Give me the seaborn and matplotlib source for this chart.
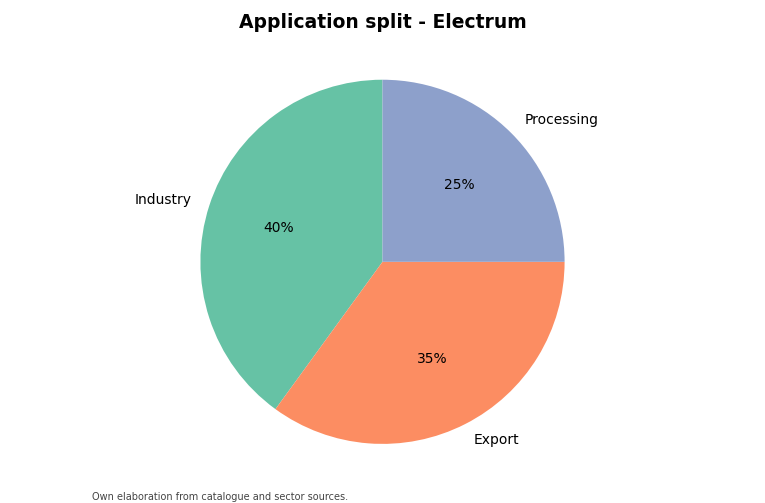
import matplotlib
matplotlib.use("Agg")
import matplotlib.pyplot as plt
import seaborn as sns

labels = ["Industry", "Export", "Processing"]
values = [40, 35, 25]

sns.set_theme(style="white")
plt.rcParams['font.family'] = ['DejaVu Sans']
plt.rcParams['text.color'] = 'black'
colors = sns.color_palette("Set2", 3)

fig = plt.figure(figsize=(7.65, 5.03), dpi=100)
ax = fig.add_axes([0.0, 0.027, 1.0, 0.905])
ax.pie(values, labels=labels, colors=colors, autopct='%1.0f%%', startangle=90,
       wedgeprops={'linewidth': 0}, textprops={'fontsize': 10, 'color': 'black'})
ax.set_aspect('equal')
fig.suptitle("Application split - Electrum", fontsize=13.5, fontweight='bold', y=0.975, color='black')
fig.text(0.12, 0.006, "Own elaboration from catalogue and sector sources.", fontsize=7, color='#444444')
fig.savefig("out.png", dpi=100)
